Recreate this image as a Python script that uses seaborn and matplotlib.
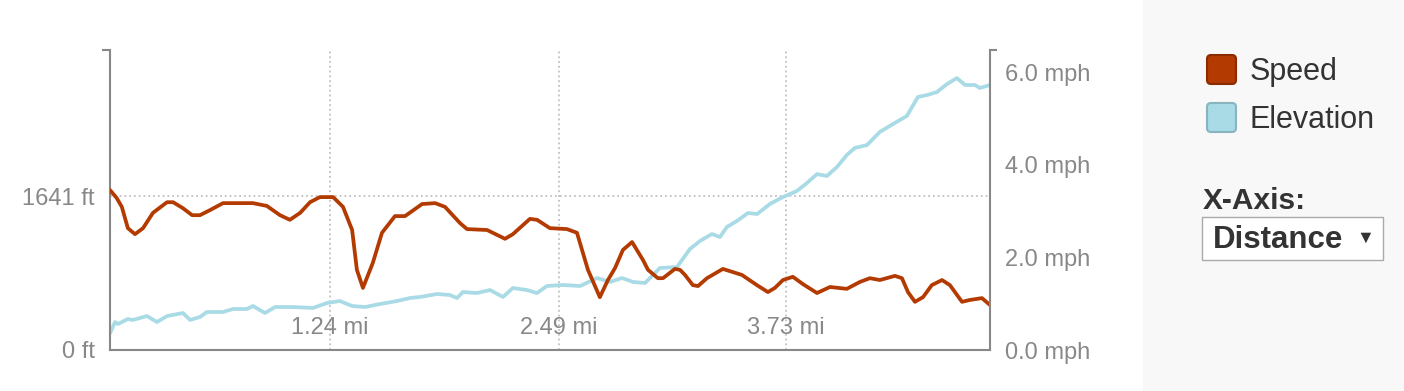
import matplotlib
matplotlib.use("Agg")
import matplotlib.pyplot as plt
import seaborn as sns
from matplotlib.patches import FancyBboxPatch, Rectangle
from matplotlib.transforms import IdentityTransform

# distance (mi) / vitesse (mph)
speed_mi = [0.039, 0.075, 0.103, 0.136, 0.175, 0.219, 0.273, 0.350, 0.383, 0.437,
            0.487, 0.530, 0.585, 0.656, 0.748, 0.819, 0.895, 0.967, 1.021, 1.077,
            1.131, 1.185, 1.257, 1.311, 1.361, 1.387, 1.420, 1.474, 1.524, 1.595,
            1.650, 1.743, 1.814, 1.868, 1.950, 1.988, 2.098, 2.196, 2.239, 2.332,
            2.371, 2.441, 2.534, 2.589, 2.649, 2.714, 2.758, 2.797, 2.840, 2.890,
            2.950, 2.977, 3.031, 3.059, 3.124, 3.152, 3.179, 3.222, 3.250, 3.299,
            3.386, 3.490, 3.572, 3.632, 3.670, 3.714, 3.768, 3.824, 3.900, 3.971,
            4.063, 4.135, 4.189, 4.243, 4.326, 4.364, 4.397, 4.435, 4.479, 4.527,
            4.583, 4.626, 4.692, 4.735, 4.801, 4.845]
speed_mph = [3.45, 3.28, 3.09, 2.63, 2.50, 2.63, 2.96, 3.19, 3.19, 3.06,
             2.91, 2.91, 3.02, 3.17, 3.17, 3.17, 3.11, 2.91, 2.81, 2.96,
             3.19, 3.30, 3.30, 3.09, 2.59, 1.73, 1.34, 1.88, 2.53, 2.89,
             2.89, 3.15, 3.17, 3.09, 2.74, 2.61, 2.59, 2.40, 2.50, 2.83,
             2.81, 2.63, 2.61, 2.53, 1.73, 1.14, 1.51, 1.77, 2.16, 2.33,
             1.94, 1.73, 1.55, 1.55, 1.75, 1.73, 1.62, 1.40, 1.38, 1.55,
             1.75, 1.62, 1.40, 1.25, 1.34, 1.51, 1.58, 1.42, 1.23, 1.36,
             1.32, 1.47, 1.55, 1.51, 1.60, 1.55, 1.25, 1.04, 1.14, 1.40,
             1.51, 1.40, 1.04, 1.08, 1.12, 0.97]

# distance (mi) / altitude (ft)
elev_mi = [0.039, 0.066, 0.082, 0.136, 0.164, 0.240, 0.295, 0.350, 0.437, 0.476,
           0.530, 0.568, 0.656, 0.710, 0.787, 0.819, 0.885, 0.940, 0.994, 1.038,
           1.147, 1.224, 1.294, 1.361, 1.431, 1.513, 1.606, 1.677, 1.732, 1.825,
           1.895, 1.934, 1.966, 2.042, 2.114, 2.185, 2.239, 2.316, 2.371, 2.425,
           2.513, 2.606, 2.699, 2.769, 2.835, 2.895, 2.961, 3.042, 3.135, 3.206,
           3.261, 3.326, 3.370, 3.408, 3.463, 3.523, 3.573, 3.643, 3.714, 3.790,
           3.845, 3.900, 3.954, 4.009, 4.063, 4.106, 4.173, 4.243, 4.315, 4.391,
           4.451, 4.501, 4.555, 4.610, 4.664, 4.709, 4.763, 4.790, 4.845]
elev_ft = [181, 298, 277, 330, 320, 362, 298, 362, 394, 320,
           352, 405, 405, 437, 437, 469, 394, 458, 458, 458,
           448, 501, 522, 469, 458, 490, 522, 554, 565, 597,
           586, 554, 618, 607, 639, 565, 661, 639, 607, 682,
           693, 682, 767, 725, 767, 725, 714, 874, 884, 1076,
           1162, 1236, 1204, 1311, 1375, 1460, 1449, 1556, 1630, 1694,
           1780, 1875, 1854, 1950, 2078, 2153, 2184, 2323, 2408, 2494,
           2696, 2717, 2749, 2834, 2898, 2824, 2824, 2792, 2824]

xtick_vals = [1.24, 2.49, 3.73]
xtick_labels = ["1.24 mi", "2.49 mi", "3.73 mi"]
ft_ticks = [0, 1641]
ft_labels = ["0 ft", "1641 ft"]
mph_ticks = [0, 2, 4, 6]
mph_labels = ["0.0 mph", "2.0 mph", "4.0 mph", "6.0 mph"]
legend_names = ["Speed", "Elevation"]

SPEED = "#b33a00"
ELEV = "#a9dbe6"
GREY = "#888888"

sns.set_style("white")
plt.rcParams['font.family'] = ['Liberation Sans', 'DejaVu Sans']

W, H = 1404, 391
fig = plt.figure(figsize=(W / 100, H / 100), dpi=100)
fig.patches.append(Rectangle((1143 / W, 0), 1 - 1143 / W, 1, transform=fig.transFigure,
                             facecolor="#f8f8f8", edgecolor="none", zorder=0))

ax = fig.add_axes([110 / W, 1 - 350 / H, 880 / W, 300 / H])
ax2 = ax.twinx()

sns.lineplot(x=elev_mi, y=elev_ft, ax=ax, color=ELEV, linewidth=2.7)
sns.lineplot(x=speed_mi, y=speed_mph, ax=ax2, color=SPEED, linewidth=2.7,
             solid_joinstyle="round", solid_capstyle="round")

ax.set_xlim(0.0385, 4.845)
ax.set_ylim(0, 3197)
ax2.set_ylim(0, 6.475)
ax.set_xlabel("")
ax.set_ylabel("")
ax2.set_ylabel("")

for s in ["top", "right"]:
    ax.spines[s].set_visible(False)
for s in ["top", "left", "bottom"]:
    ax2.spines[s].set_visible(False)
for sp in [ax.spines["left"], ax.spines["bottom"], ax2.spines["right"]]:
    sp.set_color(GREY)
    sp.set_linewidth(1.5)

# axe gauche (ft)
ax.set_yticks(ft_ticks, ft_labels)
ax.set_yticks([0, 3197], minor=True)
ax.tick_params(axis="y", which="major", length=0, pad=11, labelsize=17, labelcolor=GREY)
ax.tick_params(axis="y", which="minor", length=6, width=1.5, color=GREY)

# axe droit (mph)
ax2.set_yticks(mph_ticks, mph_labels)
ax2.set_yticks([0, 6.475], minor=True)
ax2.tick_params(axis="y", which="major", length=0, pad=11, labelsize=17, labelcolor=GREY)
ax2.tick_params(axis="y", which="minor", length=5, width=1.5, color=GREY)

# axe x
ax.set_xticks(xtick_vals, xtick_labels)
ax.tick_params(axis="x", direction="in", length=5, width=2.5, color="#c0c0c0",
               pad=-24, labelsize=17, labelcolor=GREY)

ax.grid(True, linestyle=":", color="#c0c0c0", linewidth=1.3)
ax.set_axisbelow(True)

# légende à droite
ident = IdentityTransform()
for i, (name, fc, ec) in enumerate(zip(legend_names, [SPEED, ELEV], ["#8a2c00", "#88b4bf"])):
    y0 = H - 84 - i * 48
    fig.patches.append(FancyBboxPatch((1207, y0), 29, 29, boxstyle="round,pad=0,rounding_size=4",
                                      facecolor=fc, edgecolor=ec, linewidth=1.5, transform=ident))
    fig.text(1250 / W, (y0 + 12) / H, name, fontsize=22, va="center", ha="left", color="#333333")

fig.text(1203 / W, 1 - 201 / H, "X-Axis:", fontsize=21.5, fontweight="bold", va="center",
         ha="left", color="#333333")
fig.patches.append(Rectangle((1202, H - 260), 181, 43, facecolor="white", edgecolor="#aaaaaa",
                             linewidth=1, transform=ident))
fig.text(1213 / W, 1 - 240 / H, "Distance", fontsize=22.5, fontweight="bold", va="center",
         ha="left", color="#333333")
fig.text(1365 / W, 1 - 238 / H, "▼", fontsize=13, va="center", ha="center", color="#333333")

fig.savefig("out.png", dpi=100)
